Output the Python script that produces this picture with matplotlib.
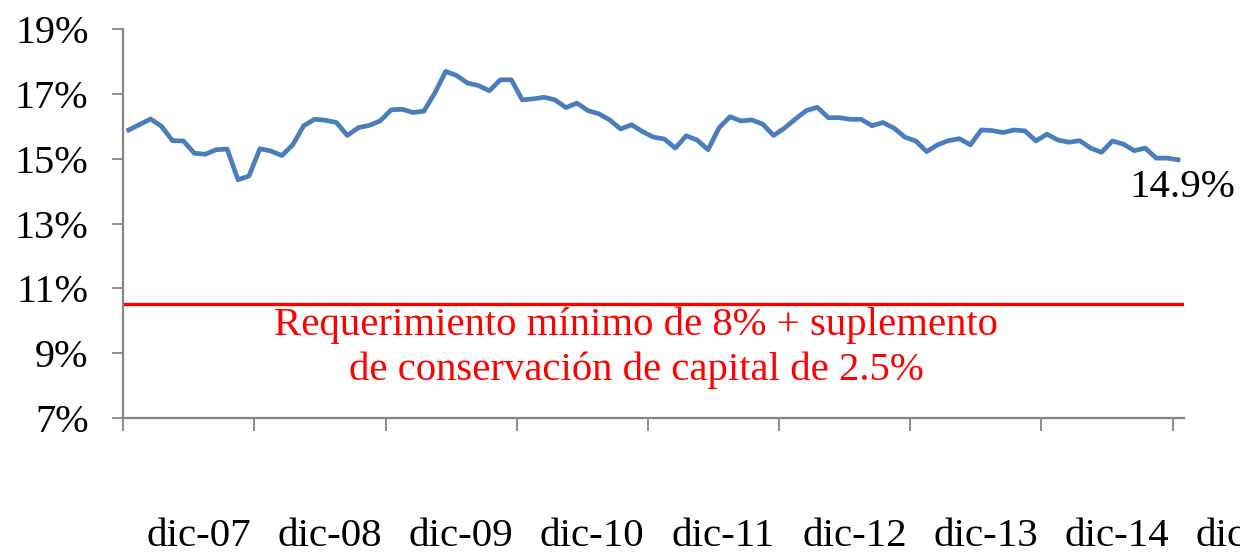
import matplotlib
matplotlib.use("Agg")
import matplotlib.pyplot as plt
import matplotlib.transforms as mtransforms

# ---- data ----
ratio = [15.89, 16.06, 16.23, 16.00, 15.56, 15.55, 15.17, 15.14, 15.28, 15.30, 14.35, 14.47, 15.31, 15.24, 15.10, 15.43,
         16.02, 16.22, 16.19, 16.12, 15.72, 15.96, 16.03, 16.17, 16.51, 16.53, 16.43, 16.47, 17.03, 17.70, 17.57, 17.34,
         17.26, 17.10, 17.44, 17.44, 16.82, 16.85, 16.90, 16.82, 16.58, 16.72, 16.49, 16.39, 16.20, 15.92, 16.05, 15.84,
         15.67, 15.61, 15.33, 15.71, 15.58, 15.28, 15.95, 16.30, 16.17, 16.20, 16.07, 15.72, 15.95, 16.23, 16.49, 16.59,
         16.27, 16.27, 16.22, 16.22, 16.02, 16.12, 15.95, 15.67, 15.55, 15.22, 15.43, 15.56, 15.62, 15.43, 15.89, 15.87,
         15.81, 15.89, 15.86, 15.55, 15.76, 15.58, 15.51, 15.56, 15.33, 15.20, 15.55, 15.45, 15.25, 15.33, 15.02, 15.02,
         14.97]
requirement = 10.5
x_labels = ["dic-07", "dic-08", "dic-09", "dic-10", "dic-11", "dic-12", "dic-13", "dic-14", "dic-15"]
y_ticks = [7, 9, 11, 13, 15, 17, 19]
last_label = "14.9%"
req_text = "Requerimiento mínimo de 8% + suplemento\nde conservación de capital de 2.5%"

plt.rcParams['font.family'] = ['Liberation Serif', 'DejaVu Serif']

fig = plt.figure(figsize=(12.4, 5.53), dpi=100)
ax = fig.add_axes([123.3 / 1240, 1 - 417.7 / 553, (1183.5 - 123.3) / 1240, (417.7 - 29.3) / 553])

n = len(ratio)
xs = list(range(n))
ax.plot(xs, ratio, color="#4A7EBB", lw=3.4, solid_joinstyle="round", zorder=3)
ax.axhline(requirement, color="#FF0000", lw=2.4, zorder=2)

ax.set_xlim(-0.5, n - 0.5)
ax.set_ylim(7, 19)
ax.set_yticks(y_ticks)
ax.set_yticklabels([f"{v}%" for v in y_ticks])
ax.set_xticks([-0.5 + 12 * k for k in range(9)])
ax.set_xticklabels([])

for s in ["top", "right"]:
    ax.spines[s].set_visible(False)
for s in ["left", "bottom"]:
    ax.spines[s].set_color("#868686")
    ax.spines[s].set_linewidth(1.6)
ax.tick_params(axis="y", direction="out", length=8, width=1.3, color="#868686",
               pad=17, labelsize=29, labelcolor="black")
ax.tick_params(axis="x", direction="out", length=9, width=1.3, color="#868686")

trans = mtransforms.blended_transform_factory(ax.transData, ax.transAxes)
for k, lab in enumerate(x_labels):
    ax.text(6.4 + 12 * k, -0.307, lab, transform=trans, ha="center", va="center",
            fontsize=29.5, clip_on=False)

ax.text(96.4, 14.12, last_label, ha="center", va="center", fontsize=29.5, clip_on=False)
ax.text(46.4, 9.17, req_text, ha="center", va="center", fontsize=29.3, color="#FF0000",
        multialignment="center", linespacing=1.25)

fig.savefig("out.png", dpi=100)
